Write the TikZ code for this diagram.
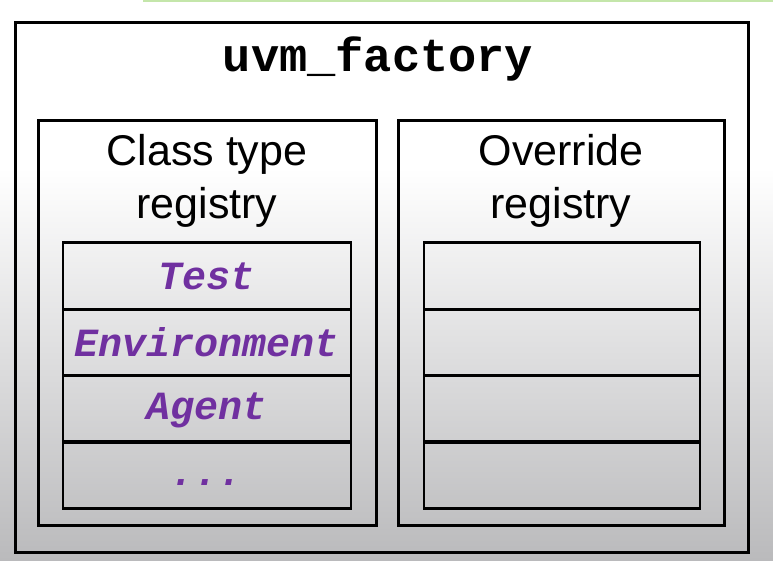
\documentclass[tikz,border=0pt]{standalone}
\usepackage{fontspec}
\setmainfont{Liberation Sans}
\newfontfamily\codefont{Liberation Mono}
\definecolor{regpurple}{RGB}{112,48,160}
\definecolor{topgreen}{RGB}{196,230,170}
\definecolor{fadegray}{RGB}{186,186,188}
% soft vertical fade: white in the upper part, grey towards the foot
\pgfdeclareverticalshading{slidebg}{100bp}{%
  color(0bp)=(fadegray); color(25bp)=(fadegray); color(60bp)=(white); color(100bp)=(white)}
\begin{document}
\begin{tikzpicture}[x=1pt,y=-1pt,
  frame/.style={draw=black, line width=3pt},
  cell/.style={draw=black, line width=2.6pt, minimum width=288pt, minimum height=66.5pt, inner sep=0pt},
  heading/.style={font=\fontsize{43}{53}\selectfont, align=center},
  entry/.style={font=\codefont\bfseries\itshape\fontsize{40}{40}\selectfont, text=regpurple}]
  % page background
  \useasboundingbox (0,0) rectangle (773,560);
  \shade[shading=slidebg] (0,0) rectangle (773,560);
  \draw[topgreen, line width=2pt] (143,0.5) -- (773,0.5);

  % factory frame and title
  \draw[frame] (15,22) rectangle (748,552);
  \node[font=\codefont\bfseries\fontsize{47}{47}\selectfont] (title) at (378,59) {uvm\_factory};

  % the two registries
  \draw[frame] (38,120) rectangle (376,525);
  \draw[frame] (398,120) rectangle (724,525);
  \node[heading] (clsreg) at (207,181) {Class type\\registry};
  \node[heading] (ovrreg) at (561,181) {Override\\registry};

  % class type registry entries
  \node[cell] (c1) at (207,276) {};
  \node[cell] (c2) at (207,342.5) {};
  \node[cell] (c3) at (207,409) {};
  \node[cell] (c4) at (207,475) {};
  \node[entry] at (c1) {Test};
  \node[entry] at (c2) {Environment};
  \node[entry] at ([yshift=-1pt]c3.center) {Agent};
  \node[entry] at ([yshift=-8pt]c4.center) {...};

  % override registry slots
  \node[cell, minimum width=276pt] (o1) at (562,276) {};
  \node[cell, minimum width=276pt] (o2) at (562,342.5) {};
  \node[cell, minimum width=276pt] (o3) at (562,409) {};
  \node[cell, minimum width=276pt] (o4) at (562,475) {};
\end{tikzpicture}
\end{document}
